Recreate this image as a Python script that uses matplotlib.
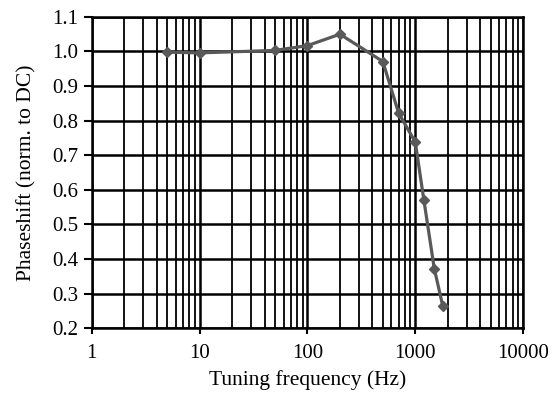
import numpy as np
import matplotlib.pyplot as plt
from matplotlib.ticker import LogLocator, NullFormatter

plt.rcParams['font.family'] = ['Liberation Serif', 'DejaVu Serif']

freq = [5, 10, 50, 100, 200, 500, 700, 1000, 1200, 1500, 1800]
phase = [0.998, 0.996, 1.003, 1.017, 1.05, 0.971, 0.822, 0.738, 0.571, 0.372, 0.263]

fig = plt.figure(figsize=(5.53, 3.93), dpi=100)
ax = fig.add_axes([0.166, 0.165, 0.780, 0.792])

ax.set_xscale('log')
ax.set_xlim(1, 10000)
ax.set_ylim(0.2, 1.1)
yt = np.arange(0.2, 1.11, 0.1)
ax.set_yticks(yt)
ax.set_yticklabels([f'{v:.1f}' for v in yt])
ax.set_xticks([1, 10, 100, 1000, 10000])
ax.set_xticklabels(['1', '10', '100', '1000', '10000'])
ax.xaxis.set_minor_locator(LogLocator(base=10, subs=np.arange(2, 10), numticks=20))
ax.xaxis.set_minor_formatter(NullFormatter())

ax.grid(True, which='major', color='black', lw=1.8)
ax.grid(True, which='minor', axis='x', color='black', lw=1.3)
ax.tick_params(which='major', direction='out', width=1.5, labelsize=15, colors='black')
ax.tick_params(axis='x', which='major', length=4.5, pad=7)
ax.tick_params(axis='y', which='major', length=6, pad=4)
ax.tick_params(which='minor', length=0)
for s in ax.spines.values():
    s.set_linewidth(1.8)
ax.set_axisbelow(True)

ax.plot(freq, phase, color='#595959', lw=2.3, marker='D', markersize=5.5, zorder=5)

ax.set_xlabel('Tuning frequency (Hz)', fontsize=15.5, labelpad=5)
ax.set_ylabel('Phaseshift (norm. to DC)', fontsize=15.5, labelpad=11)

fig.savefig('out.png', dpi=100)
